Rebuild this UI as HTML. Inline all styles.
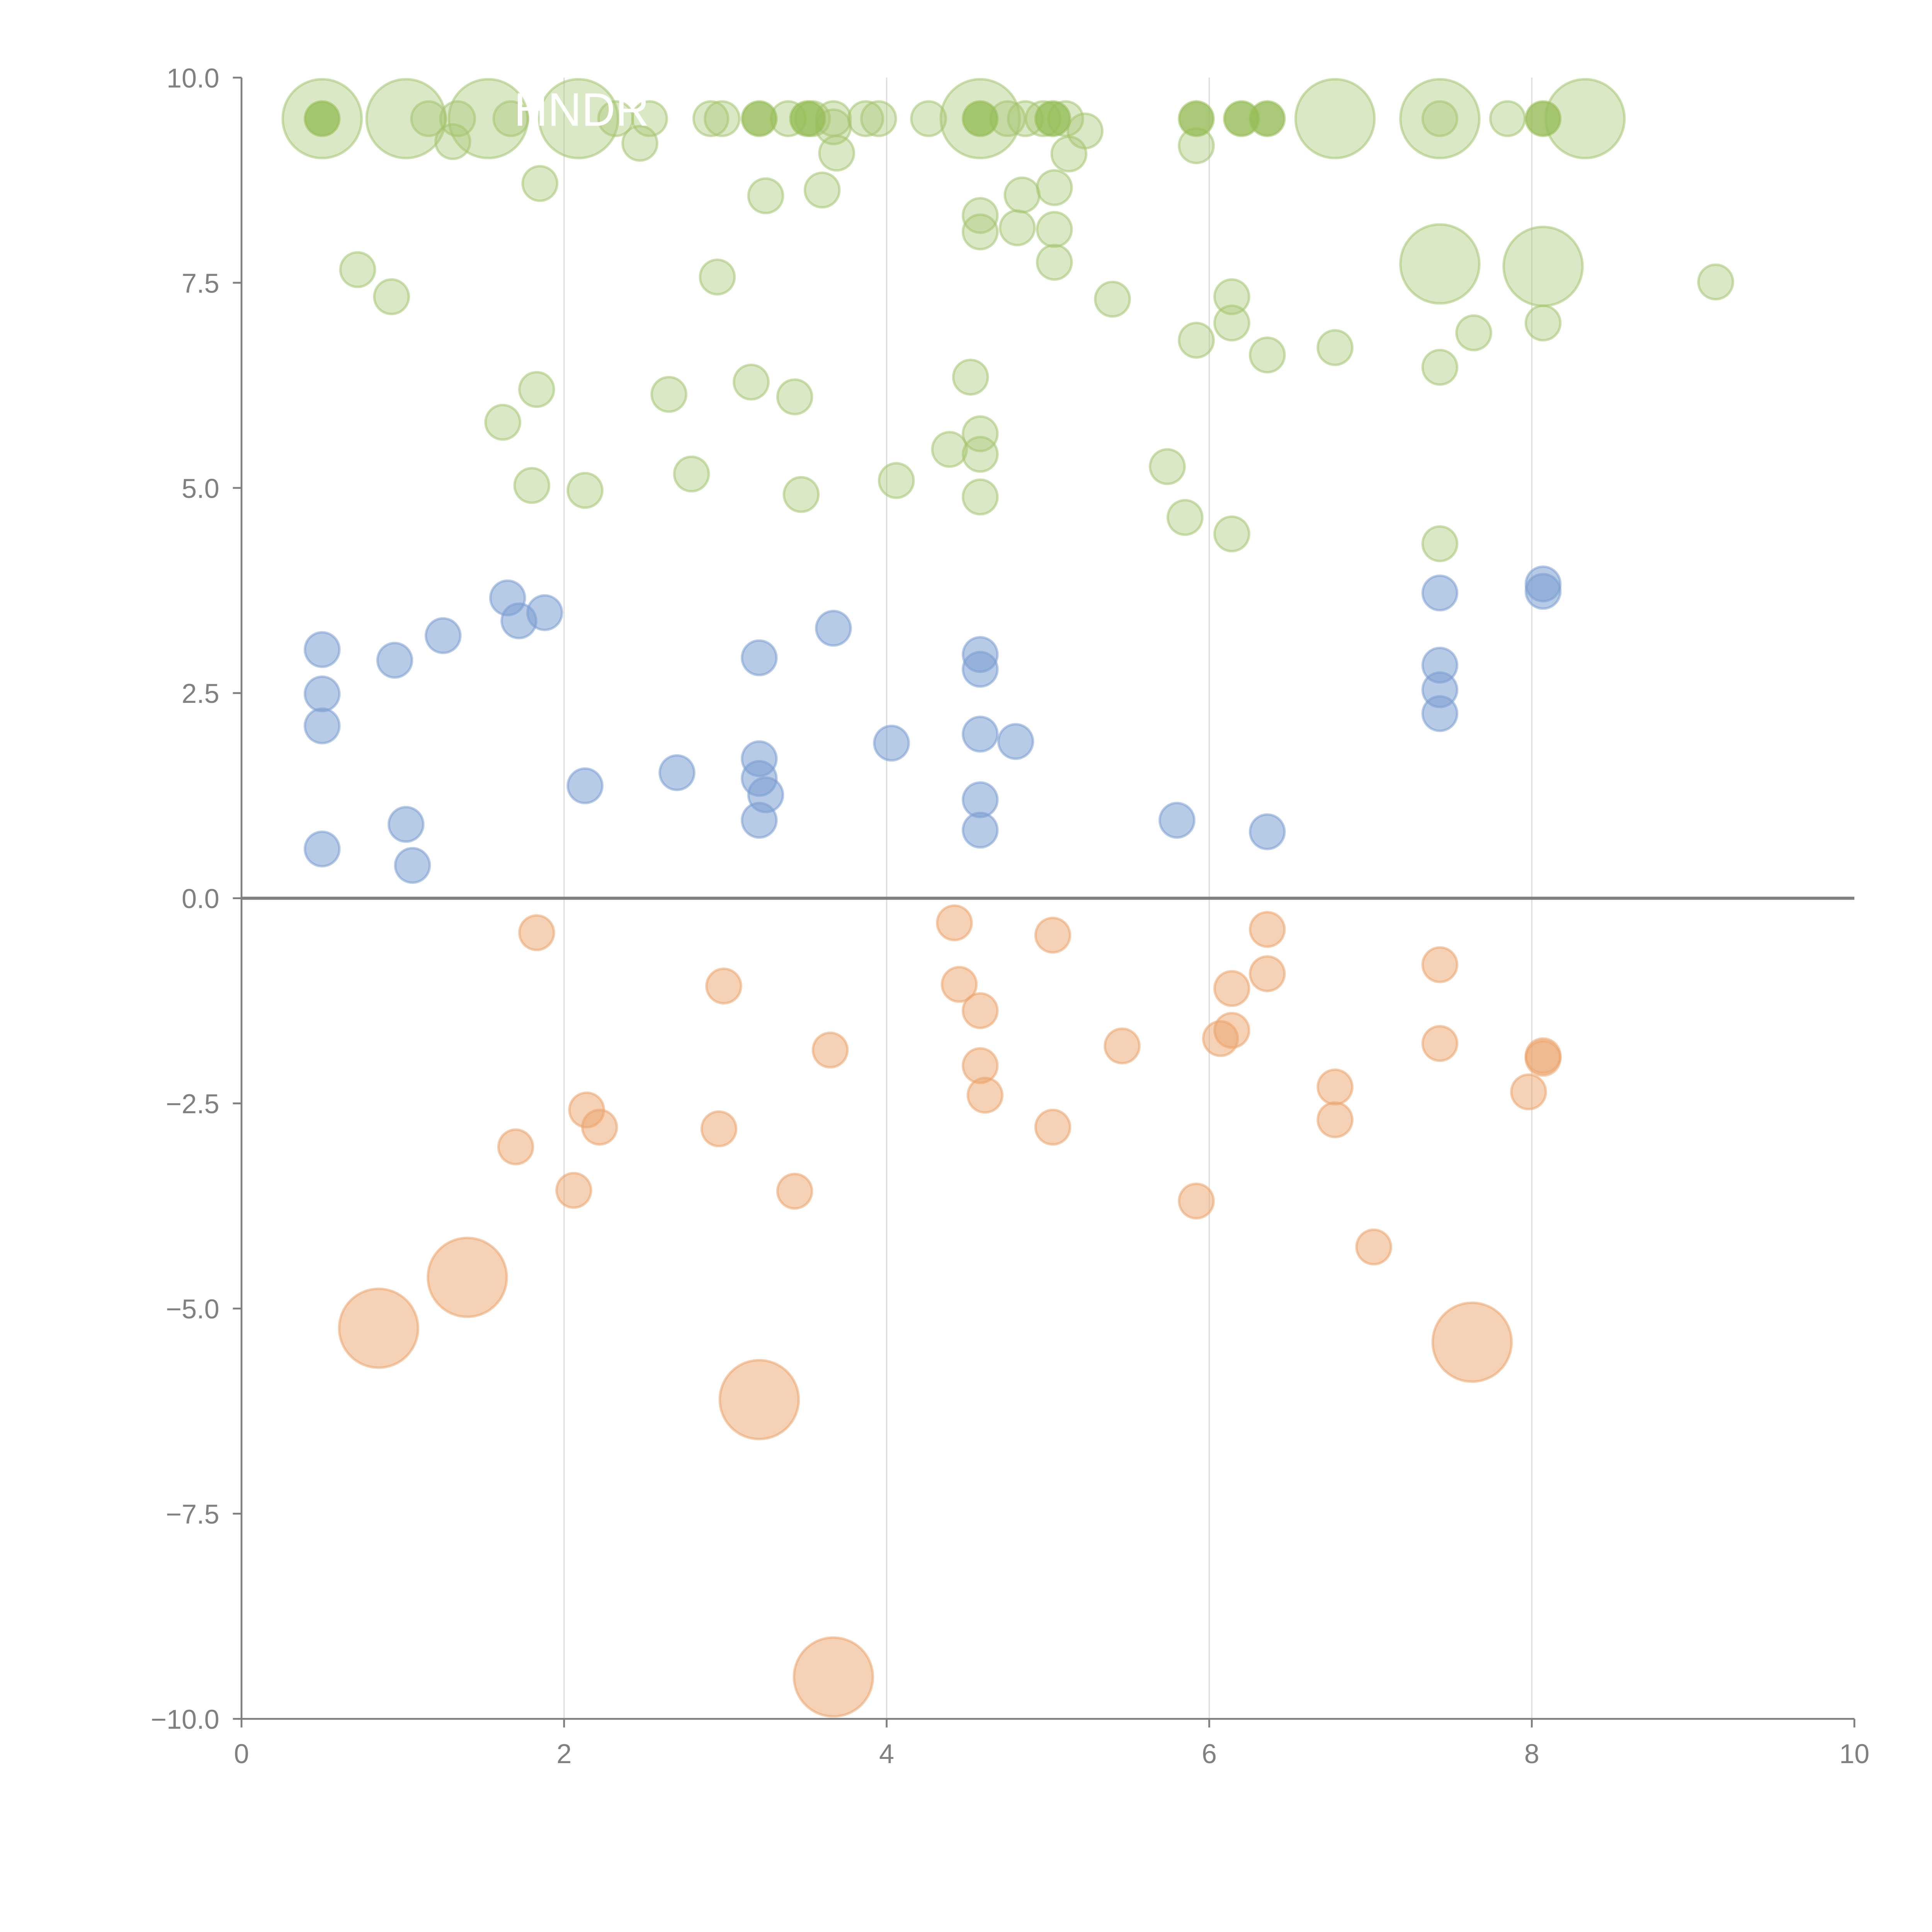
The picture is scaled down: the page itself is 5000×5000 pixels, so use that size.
<!DOCTYPE html>
<html><head><meta charset="utf-8"><style>
html,body{margin:0;padding:0;background:#fff}
svg{display:block}
text{font-family:"Liberation Sans",sans-serif}
</style></head><body>
<svg id="chart" width="5000" height="5000" viewBox="0 0 1568 1568" xmlns="http://www.w3.org/2000/svg">
<g id="grid"></g>
<g id="axes"></g>
<g id="marks"></g>
<text x="472" y="102" font-size="38" fill="#fff" text-anchor="middle">HNDR</text>
</svg>
<script>
const xTicks=[0,2,4,6,8,10];
const xTickLabels=["0","2","4","6","8","10"];
const yTicks=[10,7.5,5,2.5,0,-2.5,-5,-7.5,-10];
const yTickLabels=["10.0","7.5","5.0","2.5","0.0","−2.5","−5.0","−7.5","−10.0"];

const blueX=[0.5,0.5,0.5,0.5,0.95,1.02,1.06,1.25,1.65,1.72,1.88,2.13,2.7,3.21,3.21,3.21,3.25,3.21,3.67,4.03,4.58,4.58,4.58,4.58,4.58,4.8,5.8,6.36,7.43,7.43,7.43,7.43,8.07,8.07];
const blueY=[3.03,2.49,2.1,0.6,2.9,0.9,0.4,3.2,3.66,3.38,3.48,1.37,1.53,2.93,1.7,1.46,1.26,0.95,3.29,1.89,2.97,2.79,2.0,1.2,0.83,1.91,0.95,0.81,3.72,2.84,2.54,2.25,3.83,3.74];

const orangeX=[1.83,2.99,4.42,4.45,4.58,4.58,4.61,5.03,3.65,5.46,6.07,6.14,6.14,6.36,6.36,7.43,7.43,8.07,8.07,7.98,6.78,6.78,2.14,2.22,1.7,2.06,2.96,3.43,5.03,5.92,7.02,1.4,0.85,3.21,7.63,3.67];
const orangeY=[-0.42,-1.07,-0.3,-1.05,-1.37,-2.04,-2.4,-0.45,-1.85,-1.8,-1.71,-1.61,-1.1,-0.38,-0.92,-0.81,-1.77,-1.92,-1.95,-2.36,-2.3,-2.7,-2.58,-2.79,-3.03,-3.56,-2.81,-3.57,-2.79,-3.69,-4.25,-4.62,-5.24,-6.11,-5.41,-9.49];
const orangeSize=[1,1,1,1,1,1,1,1,1,1,1,1,1,1,1,1,1,1,1,1,1,1,1,1,1,1,1,1,1,1,1,2,2,2,2,2];

const greenX=[0.5,1.02,1.16,1.34,1.53,1.67,2.09,2.32,2.53,2.91,2.98,3.39,3.54,3.67,3.87,3.95,4.26,4.58,4.75,4.86,4.97,5.11,6.78,7.43,7.43,7.85,8.33,
1.31,2.47,3.67,3.69,5.23,5.13,5.92,1.85,3.25,3.6,4.84,5.04,4.58,4.58,4.81,5.04,5.04,0.72,0.93,2.95,5.4,6.14,6.14,5.92,6.36,6.78,7.43,7.64,8.07,9.14,1.83,1.62,2.65,3.16,3.43,4.52,4.58,4.58,4.39,1.8,2.13,2.79,3.47,4.06,4.58,5.74,5.85,6.14,7.43,7.43,8.07];
const greenY=[9.5,9.5,9.5,9.5,9.5,9.5,9.5,9.5,9.5,9.5,9.5,9.5,9.5,9.5,9.5,9.5,9.5,9.5,9.5,9.5,9.5,9.5,9.5,9.5,9.5,9.5,9.5,
9.22,9.2,9.4,9.08,9.35,9.07,9.17,8.71,8.56,8.63,8.57,8.66,8.32,8.12,8.17,8.15,7.75,7.66,7.33,7.57,7.3,7.33,7.01,6.8,6.62,6.71,6.47,6.89,7.01,7.51,6.2,5.8,6.14,6.29,6.11,6.35,5.66,5.41,5.47,5.03,4.97,5.17,4.92,5.09,4.89,5.26,4.64,4.44,4.32,7.73,7.7];
const greenSize=[2,2,1,1,2,1,2,1,1,1,1,1,1,1,1,1,1,2,1,1,1,1,2,2,1,1,2,
1,1,1,1,1,1,1,1,1,1,1,1,1,1,1,1,1,1,1,1,1,1,1,1,1,1,1,1,1,1,1,1,1,1,1,1,1,1,1,1,1,1,1,1,1,1,1,1,1,2,2];
const greenDarkX=[0.5,3.21,3.51,4.58,5.03,5.92,6.2,6.36,8.07];
const greenDarkY=[9.5,9.5,9.5,9.5,9.5,9.5,9.5,9.5,9.5];

const X0=196,X1=1505,Y0=1395,Y1=63;
const sx=v=>X0+(v-0)/(10-0)*(X1-X0);
const sy=v=>Y0-(v+10)/20*(Y0-Y1);
const NS="http://www.w3.org/2000/svg";
function mk(tag,attrs,parent){const e=document.createElementNS(NS,tag);for(const k in attrs)e.setAttribute(k,attrs[k]);parent.appendChild(e);return e;}
const grid=document.getElementById('grid'),axes=document.getElementById('axes'),marks=document.getElementById('marks');

xTicks.forEach((t,i)=>{
  if(t>0&&t<10){const g=mk('line',{x1:sx(t),x2:sx(t),y1:Y1,y2:Y0,stroke:'#dcdcdc','stroke-width':1},grid);
  
  }
  const tk=mk('line',{x1:sx(t),x2:sx(t),y1:Y0,y2:Y0+7,stroke:'#808080','stroke-width':1.5},axes);
  
  
  const tx=mk('text',{x:sx(t),y:Y0+36,'font-size':22,fill:'#808080','text-anchor':'middle'},axes);
  tx.textContent=xTickLabels[i];
  
  
});
yTicks.forEach((t,i)=>{
  const tk=mk('line',{x1:X0-7,x2:X0,y1:sy(t),y2:sy(t),stroke:'#808080','stroke-width':1.5},axes);
  
  
  const tx=mk('text',{x:X0-18,y:sy(t)+8,'font-size':22,fill:'#808080','text-anchor':'end'},axes);
  tx.textContent=yTickLabels[i];
  
  
});
const xa=mk('line',{x1:X0,x2:X1,y1:Y0,y2:Y0,stroke:'#808080','stroke-width':1.5},axes);


const ya=mk('line',{x1:X0,x2:X0,y1:Y1,y2:Y0,stroke:'#808080','stroke-width':1.5},axes);



function draw(xs,ys,sizes,color,name,op){
  xs.forEach((x,i)=>{
    const r=sizes&&sizes[i]===2?32:14;
    const c=mk('circle',{cx:sx(x),cy:sy(ys[i]),r:r,fill:color,'fill-opacity':op,stroke:color,'stroke-opacity':0.55,'stroke-width':2},marks);
    
    
  });
}
draw(greenX,greenY,greenSize,'#a4c570','green-bubble',0.4);
draw(greenDarkX,greenDarkY,null,'#96bd58','green-bubble-dark',0.8);
draw(blueX,blueY,null,'#7b9fd2','blue-bubble',0.55);
draw(orangeX,orangeY,orangeSize,'#eba46c','orange-bubble',0.5);

const z=mk('line',{x1:X0,x2:X1,y1:sy(0),y2:sy(0),stroke:'#808080','stroke-width':2.5},axes);


</script>
</body></html>
